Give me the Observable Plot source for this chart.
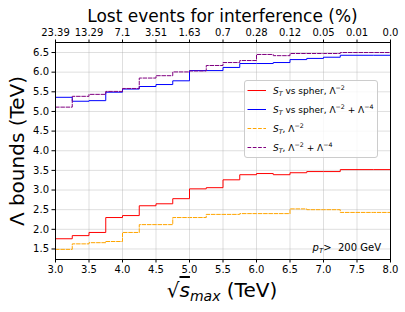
<!DOCTYPE html>
<html>
<head>
<meta charset="utf-8">
<script src="https://cdn.jsdelivr.net/npm/d3@7"></script>
<script src="https://cdn.jsdelivr.net/npm/@observablehq/plot@0.6"></script>
<style>
  html, body { margin: 0; padding: 0; background: #fff; }
  svg { font-family: "DejaVu Sans", sans-serif; display: block; }
</style>
</head>
<body>
<div id="chart"></div>
<script>
// Bin edges (TeV) of sqrt(s)_max
const edges = [3.0, 3.25, 3.5, 3.75, 4.0, 4.25, 4.5, 4.75, 5.0, 5.25, 5.5, 5.75, 6.0, 6.25, 6.5, 6.75, 7.0, 7.25, 7.5, 7.75, 8.0];
// Series values per bin (20 bins)
const redVals    = [1.76, 1.84, 1.92, 2.30, 2.35, 2.60, 2.65, 2.78, 3.03, 3.06, 3.26, 3.39, 3.42, 3.39, 3.44, 3.47, 3.47, 3.52, 3.52, 3.52];
const blueVals   = [5.36, 5.26, 5.275, 5.49, 5.57, 5.635, 5.685, 5.78, 6.04, 6.04, 6.12, 6.22, 6.22, 6.245, 6.32, 6.35, 6.38, 6.43, 6.43, 6.43];
const orangeVals = [1.49, 1.63, 1.66, 1.69, 1.92, 2.12, 2.12, 2.30, 2.30, 2.38, 2.38, 2.40, 2.40, 2.40, 2.52, 2.50, 2.50, 2.43, 2.43, 2.43];
const purpleVals = [5.11, 5.385, 5.435, 5.51, 5.585, 5.85, 5.91, 6.006, 6.03, 6.17, 6.245, 6.296, 6.45, 6.42, 6.475, 6.475, 6.475, 6.5, 6.5, 6.5];

const xTicks = [3.0, 3.5, 4.0, 4.5, 5.0, 5.5, 6.0, 6.5, 7.0, 7.5, 8.0];
const topLabels = ["23.39", "13.29", "7.1", "3.51", "1.63", "0.7", "0.28", "0.12", "0.05", "0.01", "0.0"];
const yTicks = [1.5, 2.0, 2.5, 3.0, 3.5, 4.0, 4.5, 5.0, 5.5, 6.0, 6.5];

const seriesNames = ["ST vs spher, Λ-2", "ST vs spher, Λ-2+Λ-4", "ST, Λ-2", "ST, Λ-2+Λ-4"];

function steps(vals) {
  return edges.map((e, i) => ({x: e, y: vals[Math.min(i, vals.length - 1)]}));
}

const W = 405, H = 312;
const mL = 55, mR = 15, mT = 42, mB = 53;

const grid = {stroke: "#b0b0b0", strokeOpacity: 0.5, strokeWidth: 0.8};

const svg = Plot.plot({
  width: W, height: H,
  marginLeft: mL, marginRight: mR, marginTop: mT, marginBottom: mB,
  style: {fontFamily: "DejaVu Sans, sans-serif", fontSize: "10px", background: "white", color: "black"},
  x: {domain: [3, 8]},
  y: {domain: [1.232, 6.755]},
  marks: [
    Plot.gridX(xTicks, grid),
    Plot.gridY(yTicks, grid),
    Plot.line(steps(redVals),    {x: "x", y: "y", curve: "step-after", stroke: "red", strokeWidth: 1}),
    Plot.line(steps(blueVals),   {x: "x", y: "y", curve: "step-after", stroke: "blue", strokeWidth: 1}),
    Plot.line(steps(orangeVals), {x: "x", y: "y", curve: "step-after", stroke: "orange", strokeWidth: 1, strokeDasharray: "3.7,1.6"}),
    Plot.line(steps(purpleVals), {x: "x", y: "y", curve: "step-after", stroke: "purple", strokeWidth: 1, strokeDasharray: "3.7,1.6"}),
    Plot.frame({stroke: "black", strokeWidth: 1}),
    Plot.axisX(xTicks, {anchor: "bottom", tickFormat: d => d.toFixed(1), tickSize: 3.5, tickPadding: 3, fontSize: 10, label: null}),
    Plot.axisX(xTicks, {anchor: "top", tickFormat: d => topLabels[xTicks.indexOf(d)], tickSize: 3.5, tickPadding: 3, fontSize: 10, label: null}),
    Plot.axisY(yTicks, {anchor: "left", tickFormat: d => d.toFixed(1), tickSize: 3.5, tickPadding: 3, fontSize: 10, label: null})
  ]
});

document.getElementById("chart").appendChild(svg);

const s = d3.select(svg);
const NS = "DejaVu Sans, sans-serif";

// rich text helper: segments [text, kind] kind: n (normal), i (italic), sub, sup
function rich(g, x, y, segs, size, anchor, transform) {
  const t = g.append("text")
    .attr("x", x).attr("y", y)
    .attr("font-family", NS)
    .attr("font-size", size)
    .attr("text-anchor", anchor || "start")
    .attr("fill", "black");
  if (transform) t.attr("transform", transform);
  let shift = 0;
  for (const [txt, kind, extra] of segs) {
    const sp = t.append("tspan").text(txt);
    let target = 0;
    if (kind === "sub" || kind === "isub") { target = size * 0.22; sp.attr("font-size", size * 0.7); }
    if (kind === "sup") { target = -size * 0.4; sp.attr("font-size", size * 0.7); }
    if (kind === "i" || kind === "isub") sp.attr("font-style", "italic");
    if (extra) sp.attr("style", extra);
    sp.attr("dy", target - shift);
    shift = target;
  }
  return t;
}

// Title
s.append("text").attr("x", 222.5).attr("y", 21.5).attr("text-anchor", "middle")
  .attr("font-family", NS).attr("font-size", 17).attr("fill", "black")
  .text("Lost events for interference (%)");

// Y label
rich(s, 0, 0, [["Λ bounds (TeV)", "n"]], 20, "middle", "translate(24,151) rotate(-90)");

// X label
rich(s, 222, 297, [["√", "n"], ["s", "i", "text-decoration: overline"], ["max", "isub"], [" (TeV)", "n"]], 20, "middle");

// pT annotation
rich(s, 381, 251, [["p", "i"], ["T", "isub"], [">  200 GeV", "n"]], 10, "end");

// Legend
const lg = s.append("g");
lg.append("rect").attr("x", 244.5).attr("y", 80.5).attr("width", 133).attr("height", 77)
  .attr("rx", 2.5).attr("fill", "white").attr("fill-opacity", 0.8).attr("stroke", "#cccccc").attr("stroke-width", 1);
const legendItems = [
  {color: "red", dash: null, segs: [["S", "i"], ["T", "isub"], [" vs spher, Λ", "n"], ["−2", "sup"]]},
  {color: "blue", dash: null, segs: [["S", "i"], ["T", "isub"], [" vs spher, Λ", "n"], ["−2", "sup"], [" + Λ", "n"], ["−4", "sup"]]},
  {color: "orange", dash: "3.7,1.6", segs: [["S", "i"], ["T", "isub"], [", Λ", "n"], ["−2", "sup"]]},
  {color: "purple", dash: "3.7,1.6", segs: [["S", "i"], ["T", "isub"], [", Λ", "n"], ["−2", "sup"], [" + Λ", "n"], ["−4", "sup"]]}
];
const legendY = [90.5, 109.5, 128.5, 147.5];
legendItems.forEach((it, i) => {
  const ly = legendY[i];
  const ln = lg.append("line").attr("x1", 247.5).attr("x2", 266).attr("y1", ly).attr("y2", ly)
    .attr("stroke", it.color).attr("stroke-width", 1);
  if (it.dash) ln.attr("stroke-dasharray", it.dash);
  rich(lg, 273, ly + 3.5, it.segs, 9, "start");
});
</script>
</body>
</html>
